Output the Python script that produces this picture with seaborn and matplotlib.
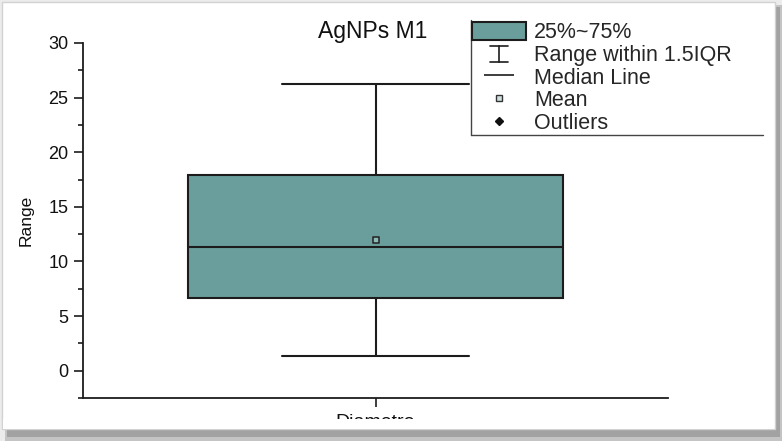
import numpy as np
import pandas as pd
import matplotlib
matplotlib.use("Agg")
import matplotlib.pyplot as plt
import seaborn as sns
from matplotlib.patches import Rectangle, Patch
from matplotlib.lines import Line2D
from matplotlib.legend_handler import HandlerBase
from matplotlib.ticker import MultipleLocator

# Particle diameter summary, AgNPs sample M1
categories = ["Diametro"]
five_number = [1.37, 6.68, 11.35, 17.93, 26.26]  # min, Q1, median, Q3, max
mean_value = 11.98
y_ticks = [0, 5, 10, 15, 20, 25, 30]
legend_labels = ["25%~75%", "Range within 1.5IQR", "Median Line", "Mean", "Outliers"]
title_text = "AgNPs M1"
y_label = "Range"

box_color = "#6a9e9c"
line_color = "#1c1c1c"

sns.set_style("ticks")
plt.rcParams["font.family"] = ["Liberation Sans", "DejaVu Sans"]

W, H = 782, 441
fig = plt.figure(figsize=(W / 100, H / 100), dpi=100)
fig.patch.set_facecolor("#ececec")


def frame_rect(x0, y0, x1, y1, **kw):
    """Rectangle given in pixels measured from the top-left corner."""
    r = Rectangle((x0 / W, 1 - y1 / H), (x1 - x0) / W, (y1 - y0) / H,
                  transform=fig.transFigure, **kw)
    fig.add_artist(r)
    return r


# window panel with a soft drop shadow
frame_rect(5, 5, 782, 441, color="#c4c4c4", lw=0, zorder=-12)
frame_rect(7, 7, 780, 437, color="#a2a2a2", lw=0, zorder=-11)
frame_rect(2, 2, 775, 429, facecolor="white", edgecolor="#d2d2d2", lw=1, zorder=-10)

ax = fig.add_axes([83 / W, 1 - 398 / H, 585 / W, 355 / H])
ax.set_facecolor("none")

df = pd.DataFrame({"sample": categories * len(five_number), "value": five_number})
sns.boxplot(data=df, x="sample", y="value", ax=ax, width=0.64, whis=(0, 100),
            color=box_color, saturation=1, linecolor=line_color, linewidth=1.5,
            fliersize=0)
sns.stripplot(x=categories, y=[mean_value], ax=ax, jitter=False, marker="s",
              size=5, color="#8dbab8", edgecolor="#2a2a2a", linewidth=1.2,
              zorder=5)

ax.set_xlim(-0.5, 0.5)
ax.set_ylim(-2.5, 30)
ax.set_yticks(y_ticks)
ax.yaxis.set_minor_locator(MultipleLocator(2.5))
sns.despine(ax=ax)
for s in ("left", "bottom"):
    ax.spines[s].set_color(line_color)
    ax.spines[s].set_linewidth(1.3)

ax.tick_params(axis="both", which="major", length=6.5, width=1.2,
               color=line_color, labelcolor="#111")
ax.tick_params(axis="y", which="minor", length=3.6, width=1.2, color=line_color)
ax.tick_params(axis="y", labelsize=13, pad=4)
ax.tick_params(axis="x", labelsize=14, pad=5)

ax.set_xlabel("")
ax.set_ylabel(y_label, fontsize=12.5, labelpad=10.5, color="#111")
ax.set_title(title_text, fontsize=16.5, x=0.496, pad=-1, color="#111")


class WhiskerKey:
    """Legend key for the whisker range (an I-shaped bar)."""


class HandlerWhisker(HandlerBase):
    def create_artists(self, legend, orig_handle, xdescent, ydescent,
                       width, height, fontsize, trans):
        cx = -xdescent + width / 2
        y0 = -ydescent + height * 0.02
        y1 = -ydescent + height * 0.92
        half = fontsize * 0.4
        kw = dict(color=line_color, lw=1.2, transform=trans)
        return [Line2D([cx, cx], [y0, y1], **kw),
                Line2D([cx - half, cx + half], [y0, y0], **kw),
                Line2D([cx - half, cx + half], [y1, y1], **kw)]


handles = [
    Patch(facecolor=box_color, edgecolor=line_color, linewidth=1.5),
    WhiskerKey(),
    Line2D([], [], color=line_color, marker="_", markersize=22,
           markeredgewidth=1.2, linestyle="none"),
    Line2D([], [], marker="s", markersize=4, markerfacecolor="#cfe0df",
           markeredgecolor="#333", markeredgewidth=1, linestyle="none"),
    Line2D([], [], marker="D", markersize=4, color="#111", linestyle="none"),
]
fig.legend(handles, legend_labels, loc="upper left",
           bbox_to_anchor=(472 / W, 1 - 22 / H), frameon=False, fontsize=15.5,
           handlelength=2.5, handleheight=0.92, handletextpad=0.37,
           labelspacing=0.05, borderpad=0, borderaxespad=0,
           handler_map={WhiskerKey: HandlerWhisker()})

fig.add_artist(Line2D([471 / W, 471 / W], [1 - 20 / H, 1 - 135 / H],
                      transform=fig.transFigure, color="#444", lw=1))
fig.add_artist(Line2D([471 / W, 763 / W], [1 - 135 / H, 1 - 135 / H],
                      transform=fig.transFigure, color="#444", lw=1))

# the panel's lower margin trims the category label
frame_rect(3, 419, 774, 428.5, color="white", lw=0, zorder=10)

fig.savefig("out.png", dpi=100)
